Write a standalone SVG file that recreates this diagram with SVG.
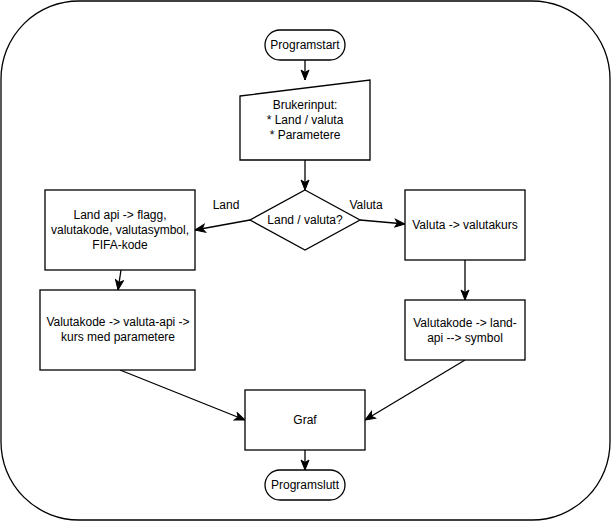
<svg xmlns="http://www.w3.org/2000/svg" width="611" height="522" viewBox="0 0 611 522">
<style>
.s{fill:#fff;stroke:#000;stroke-width:1.3}
.t{font-family:"Liberation Sans",Arial,sans-serif;font-size:12px;fill:#000;text-anchor:middle}
.c{fill:none;stroke:#000;stroke-width:1.3}
</style>
<defs>
<marker id="a" markerUnits="userSpaceOnUse" markerWidth="12" markerHeight="10" viewBox="0 0 12 10" refX="11" refY="5" orient="auto">
<path d="M1,1 L11,5 L1,9 L3.5,5 Z" fill="#000" stroke="#000" stroke-width="1"/>
</marker>
</defs>
<rect id="frame" x="1" y="1" width="609" height="519" rx="78" ry="78" fill="#fff" stroke="#000" stroke-width="1.3"/>
<g id="connectors">
<path class="c" d="M305,60 L305,80" marker-end="url(#a)"/>
<path class="c" d="M305,160 L305,190" marker-end="url(#a)"/>
<path class="c" d="M250,220 L195,230" marker-end="url(#a)"/>
<path class="c" d="M360,220 L405,224" marker-end="url(#a)"/>
<path class="c" d="M121,270 L118,290" marker-end="url(#a)"/>
<path class="c" d="M465,260 L465,300" marker-end="url(#a)"/>
<path class="c" d="M120,370 L245,420" marker-end="url(#a)"/>
<path class="c" d="M465,360 L365,420" marker-end="url(#a)"/>
<path class="c" d="M305,450 L305,470" marker-end="url(#a)"/>
<text class="t" x="226" y="209">Land</text>
<text class="t" x="366" y="209">Valuta</text>
</g>
<g id="start">
<rect class="s" x="265" y="30" width="80" height="30" rx="15" ry="15"/>
<text class="t" x="305" y="49">Programstart</text>
</g>
<g id="input">
<path class="s" d="M240,96 L370,80 L370,160 L240,160 Z"/>
<text class="t" x="305" y="109">Brukerinput:</text>
<text class="t" x="305" y="124">* Land / valuta</text>
<text class="t" x="305" y="139">* Parametere</text>
</g>
<g id="decision">
<path class="s" d="M305,190 L360,220 L305,250 L250,220 Z"/>
<text class="t" x="305" y="224">Land / valuta?</text>
</g>
<g id="landapi">
<rect class="s" x="45" y="190" width="150" height="80"/>
<text class="t" x="120" y="219">Land api -&gt; flagg,</text>
<text class="t" x="120" y="234">valutakode, valutasymbol,</text>
<text class="t" x="120" y="249">FIFA-kode</text>
</g>
<g id="valutaapi">
<rect class="s" x="40" y="290" width="155" height="80"/>
<text class="t" x="118" y="326">Valutakode -&gt; valuta-api -&gt;</text>
<text class="t" x="118" y="341">kurs med parametere</text>
</g>
<g id="valutakurs">
<rect class="s" x="405" y="190" width="120" height="70"/>
<text class="t" x="465" y="229">Valuta -&gt; valutakurs</text>
</g>
<g id="symbol">
<rect class="s" x="405" y="300" width="120" height="60"/>
<text class="t" x="465" y="327">Valutakode -&gt; land-</text>
<text class="t" x="465" y="342">api --&gt; symbol</text>
</g>
<g id="graf">
<rect class="s" x="245" y="390" width="120" height="60"/>
<text class="t" x="305" y="424">Graf</text>
</g>
<g id="end">
<rect class="s" x="265" y="470" width="80" height="30" rx="15" ry="15"/>
<text class="t" x="305" y="489">Programslutt</text>
</g>
</svg>
